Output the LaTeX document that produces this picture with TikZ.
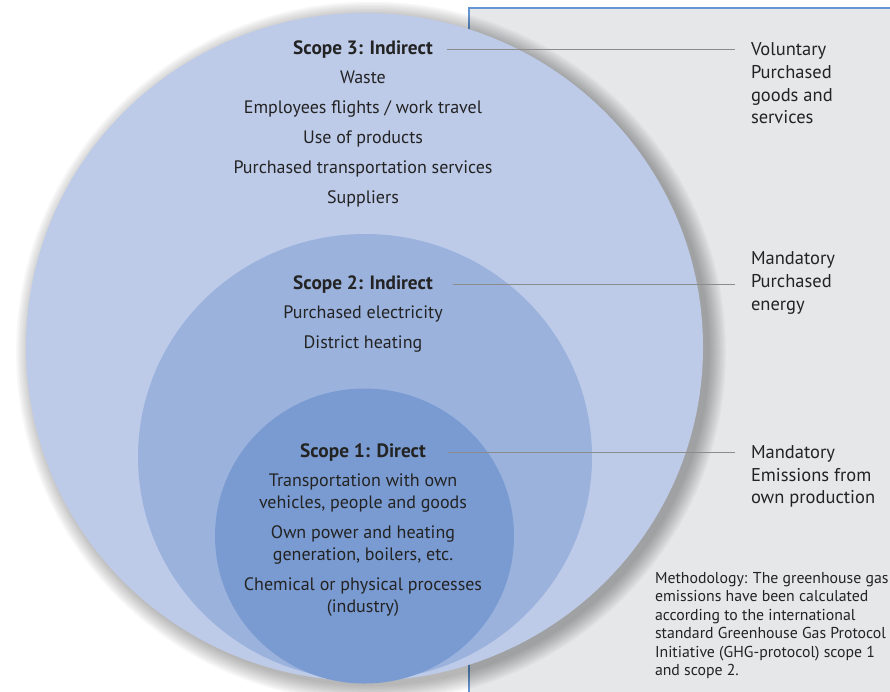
\documentclass[tikz,border=0pt]{standalone}
\usepackage{fontspec}
\setmainfont{PT Sans}
\usetikzlibrary{calc}
\definecolor{outerc}{RGB}{189,203,233}
\definecolor{midc}{RGB}{155,178,221}
\definecolor{innerc}{RGB}{122,155,209}
\definecolor{panelc}{RGB}{230,231,233}
\definecolor{panelline}{RGB}{100,150,210}
\definecolor{txt}{RGB}{35,35,35}
\definecolor{leaderc}{RGB}{140,140,140}
\tikzset{
  every node/.style={inner sep=0pt, outer sep=0pt, text=txt},
  maintext/.style={font=\fontsize{18}{22}\selectfont, align=center},
  titletext/.style={font=\fontsize{19.3}{22}\selectfont\bfseries},
  sidetext/.style={font=\fontsize{18.5}{22.7}\selectfont, align=left, anchor=west},
  smalltext/.style={font=\fontsize{15.8}{18.4}\selectfont, align=left, anchor=west},
  leader/.style={draw=leaderc, line width=1pt}
}
\begin{document}
\begin{tikzpicture}[x=1pt,y=-1pt]
\useasboundingbox (0,0) rectangle (890,691);
% panel
\fill[panelc] (469,8) rectangle (892,693);
\draw[panelline, line width=1.5pt] (469,693) -- (469,8) -- (892,8);
% shadow
\foreach \i in {0,...,11}{
  \fill[black, opacity=0.027] (371,352) ellipse [x radius={(338.5+\i*1.5)*1pt}, y radius={(334+\i*1.5)*1pt}];
}
% circles
\fill[outerc] (364.5,347) ellipse [x radius=338.5pt, y radius=334pt];
\fill[midc] (365,457) ellipse [x radius=227pt, y radius=223pt];
\fill[innerc] (364.5,536) ellipse [x radius=149.5pt, y radius=147.5pt];
% scope 3
\node[titletext] (s3t) at (363,49.5) {Scope 3: Indirect};
\node[maintext, font=\fontsize{18}{30}\selectfont] (s3i) at (363,138.5) {Waste\\Employees flights / work travel\\Use of products\\Purchased transportation services\\Suppliers};
% scope 2
\node[titletext] (s2t) at (363,284.5) {Scope 2: Indirect};
\node[maintext, font=\fontsize{18}{30}\selectfont] (s2i) at (363,329.5) {Purchased electricity\\District heating};
% scope 1
\node[titletext] (s1t) at (363,452.5) {Scope 1: Direct};
\node[maintext] (s1i) at (363,545.5) {Transportation with own\\vehicles, people and goods\\[8pt]Own power and heating\\generation, boilers, etc.\\[8pt]Chemical or physical processes\\(industry)};
% side labels
\node[sidetext] (l3) at (751,83.5) {Voluntary\\Purchased\\goods and\\services};
\node[sidetext] (l2) at (751,283) {Mandatory\\Purchased\\energy};
\node[sidetext] (l1) at (751,476.5) {Mandatory\\Emissions from\\own production};
\node[smalltext] (meth) at (655,625.5) {Methodology: The greenhouse gas\\emissions have been calculated\\according to the international\\standard Greenhouse Gas Protocol\\Initiative (GHG-protocol) scope 1\\and scope 2.};
% leaders
\draw[leader] ([xshift=14pt]s3t.east) -- ($(s3t.east -| l3.west)+(-16,0)$);
\draw[leader] ([xshift=20pt]s2t.east) -- ($(s2t.east -| l2.west)+(-16,0)$);
\draw[leader] ([xshift=22pt]s1t.east) -- ($(s1t.east -| l1.west)+(-16,0)$);
\end{tikzpicture}
\end{document}
